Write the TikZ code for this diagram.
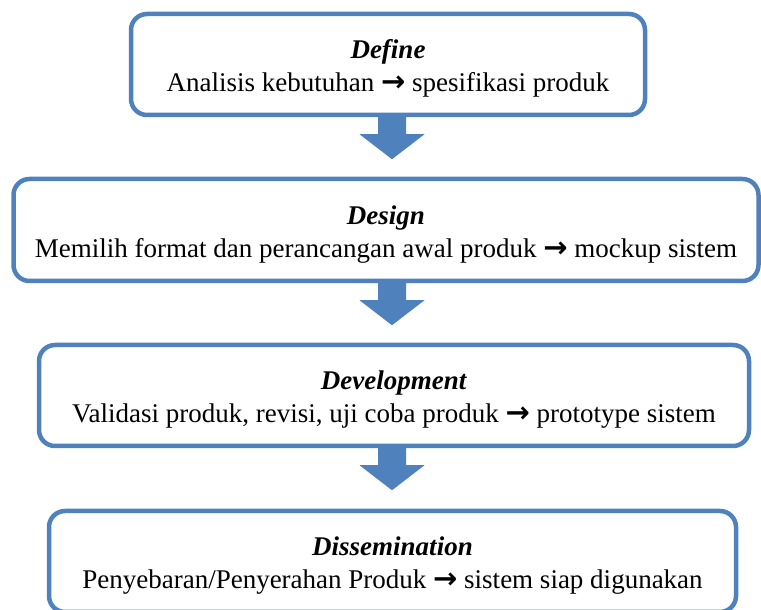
\documentclass[tikz,border=0pt]{standalone}
\usepackage{fontspec}
\setmainfont{Liberation Serif}
\newfontfamily\arrowfont{DejaVu Sans}
\usepackage{xcolor}
\usepackage{tikz}
\definecolor{flowblue}{HTML}{4F81BD}
\newcommand{\toarrow}{{\arrowfont\bfseries\fontsize{29}{33}\selectfont →}}

\begin{document}
\begin{tikzpicture}[x=1pt, y=1pt,
  font=\fontsize{27}{33}\selectfont,
  flowbox/.style={draw=flowblue, line width=4.5pt, rounded corners=16pt, fill=white, align=center, inner sep=0pt,
    text height=61pt, text depth=6pt},
  flowarrow/.style={fill=flowblue}]
\useasboundingbox (0,0) rectangle (761,610);

\node[flowbox, minimum width=514, minimum height=101] (define) at (388,545.5) {\textbf{\textit{Define}}\\ Analisis kebutuhan \toarrow{} spesifikasi produk};
\node[flowbox, minimum width=745, minimum height=102] (design) at (386,380) {\textbf{\textit{Design}}\\ Memilih format dan perancangan awal produk \toarrow{} mockup sistem};
\node[flowbox, minimum width=710, minimum height=101] (development) at (394,214.5) {\textbf{\textit{Development}}\\ Validasi produk, revisi, uji coba produk \toarrow{} prototype sistem};
\node[flowbox, minimum width=687, minimum height=101] (dissemination) at (392.5,48.5) {\textbf{\textit{Dissemination}}\\ Penyebaran/Penyerahan Produk \toarrow{} sistem siap digunakan};

\fill[flowarrow] (define.south -| 378,0) -- ++(0,-17) -- ++(-18.5,0) -- ++(32.5,-25) -- ++(32.5,25) -- ++(-18.5,0) -- ++(0,17) -- cycle;
\fill[flowarrow] (design.south -| 378,0) -- ++(0,-17) -- ++(-18.5,0) -- ++(32.5,-25) -- ++(32.5,25) -- ++(-18.5,0) -- ++(0,17) -- cycle;
\fill[flowarrow] (development.south -| 378,0) -- ++(0,-17) -- ++(-18.5,0) -- ++(32.5,-25) -- ++(32.5,25) -- ++(-18.5,0) -- ++(0,17) -- cycle;
\end{tikzpicture}
\end{document}
